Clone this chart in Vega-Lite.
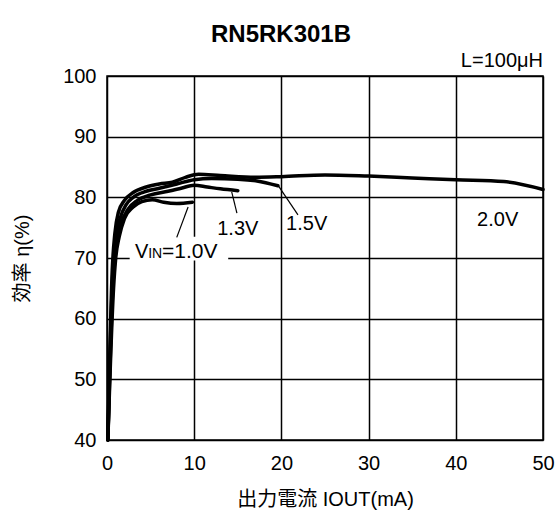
{
  "$schema": "https://vega.github.io/schema/vega-lite/v6.json",
  "width": 436,
  "height": 364,
  "autosize": {"type": "none"},
  "padding": {"left": 107, "top": 76, "right": 16, "bottom": 72},
  "background": "white",
  "title": {"text": "RN5RK301B", "font": "Liberation Sans", "fontSize": 24, "fontWeight": "bold", "color": "black", "anchor": "middle", "dx": -44, "offset": 4},
  "config": {
    "view": {"stroke": "black", "strokeWidth": 1.5},
    "axis": {"labelFont": "Liberation Sans", "labelFontSize": 20, "labelColor": "black", "titleFont": "Liberation Sans, Noto Sans CJK JP", "titleFontSize": 20, "titleFontWeight": "normal", "titleColor": "black", "tickSize": 0, "domain": false, "gridColor": "black", "gridOpacity": 1, "gridWidth": 1.5, "labelPadding": 11, "labelFlush": false}
  },
  "datasets": {
    "curves": [
      {"s": "2.0V", "x": 0.1, "y": 40}, {"s": "2.0V", "x": 0.6, "y": 68}, {"s": "2.0V", "x": 0.9, "y": 74}, {"s": "2.0V", "x": 1.3, "y": 77.5}, {"s": "2.0V", "x": 2, "y": 79.5}, {"s": "2.0V", "x": 3, "y": 80.8}, {"s": "2.0V", "x": 4.5, "y": 81.7}, {"s": "2.0V", "x": 6, "y": 82.2}, {"s": "2.0V", "x": 7.5, "y": 82.5}, {"s": "2.0V", "x": 9, "y": 83.3}, {"s": "2.0V", "x": 10.5, "y": 83.8}, {"s": "2.0V", "x": 13, "y": 83.6}, {"s": "2.0V", "x": 17, "y": 83.3}, {"s": "2.0V", "x": 20, "y": 83.4}, {"s": "2.0V", "x": 25, "y": 83.7}, {"s": "2.0V", "x": 30, "y": 83.5}, {"s": "2.0V", "x": 35, "y": 83.2}, {"s": "2.0V", "x": 40, "y": 82.9}, {"s": "2.0V", "x": 45.5, "y": 82.6}, {"s": "2.0V", "x": 50, "y": 81.3},
      {"s": "1.5V", "x": 0.1, "y": 40}, {"s": "1.5V", "x": 0.65, "y": 67}, {"s": "1.5V", "x": 1.0, "y": 73}, {"s": "1.5V", "x": 1.5, "y": 76.5}, {"s": "1.5V", "x": 2.2, "y": 78.8}, {"s": "1.5V", "x": 3, "y": 80}, {"s": "1.5V", "x": 4.5, "y": 81}, {"s": "1.5V", "x": 6, "y": 81.5}, {"s": "1.5V", "x": 8, "y": 82.2}, {"s": "1.5V", "x": 10, "y": 82.9}, {"s": "1.5V", "x": 12, "y": 83.1}, {"s": "1.5V", "x": 15, "y": 83.0}, {"s": "1.5V", "x": 17.2, "y": 82.7}, {"s": "1.5V", "x": 19.6, "y": 81.9},
      {"s": "1.3V", "x": 0.1, "y": 40}, {"s": "1.3V", "x": 0.7, "y": 66}, {"s": "1.3V", "x": 1.1, "y": 72}, {"s": "1.3V", "x": 1.6, "y": 75.5}, {"s": "1.3V", "x": 2.4, "y": 78}, {"s": "1.3V", "x": 3.5, "y": 79.5}, {"s": "1.3V", "x": 5, "y": 80.4}, {"s": "1.3V", "x": 7, "y": 81}, {"s": "1.3V", "x": 8.5, "y": 81.5}, {"s": "1.3V", "x": 10, "y": 82}, {"s": "1.3V", "x": 11.5, "y": 81.7}, {"s": "1.3V", "x": 13, "y": 81.4}, {"s": "1.3V", "x": 15, "y": 81.1},
      {"s": "1.0V", "x": 0.1, "y": 40}, {"s": "1.0V", "x": 0.75, "y": 65}, {"s": "1.0V", "x": 1.0, "y": 70}, {"s": "1.0V", "x": 1.4, "y": 73.5}, {"s": "1.0V", "x": 2.0, "y": 76.5}, {"s": "1.0V", "x": 3, "y": 78.4}, {"s": "1.0V", "x": 4, "y": 79.3}, {"s": "1.0V", "x": 5.2, "y": 79.6}, {"s": "1.0V", "x": 6.5, "y": 79.2}, {"s": "1.0V", "x": 8, "y": 79}, {"s": "1.0V", "x": 9.8, "y": 79.2}
    ],
    "leaders": [
      {"x": 9.3, "y": 78.4, "x2": 8.0, "y2": 73.4},
      {"x": 14.3, "y": 80.9, "x2": 14.9, "y2": 77.4},
      {"x": 19.6, "y": 82.0, "x2": 21.9, "y2": 77.1}
    ],
    "labels": [
      {"t": "1.3V", "x": 15.0, "y": 74.8},
      {"t": "1.5V", "x": 22.9, "y": 75.6},
      {"t": "2.0V", "x": 44.8, "y": 76.3}
    ],
    "vin": [
      {"t": "V", "x": 3.21, "y": 70.0, "size": 20},
      {"t": "IN", "x": 4.72, "y": 70.0, "size": 14},
      {"t": "=1.0V", "x": 6.3, "y": 70.0, "size": 21}
    ],
    "box": [{"x": 2.6, "x2": 13.9, "y": 69.6, "y2": 73.5}],
    "note": [{"t": "L=100μH", "x": 50, "y": 100}]
  },
  "layer": [
    {
      "data": {"name": "box"},
      "mark": {"type": "rect", "color": "white"},
      "encoding": {
        "x": {"field": "x", "type": "quantitative", "scale": {"domain": [0, 50]}, "axis": {"values": [0, 10, 20, 30, 40, 50], "title": "出力電流 IOUT(mA)", "titlePadding": 16, "labelPadding": 13}},
        "x2": {"field": "x2"},
        "y": {"field": "y", "type": "quantitative", "scale": {"domain": [40, 100]}, "axis": {"values": [40, 50, 60, 70, 80, 90, 100], "title": "効率 η(%)", "titlePadding": 30}},
        "y2": {"field": "y2"}
      }
    },
    {
      "data": {"name": "curves"},
      "mark": {"type": "line", "color": "black", "strokeWidth": 3.5, "interpolate": "monotone", "strokeCap": "round", "strokeJoin": "round"},
      "encoding": {
        "x": {"field": "x", "type": "quantitative"},
        "y": {"field": "y", "type": "quantitative"},
        "detail": {"field": "s"}
      }
    },
    {
      "data": {"name": "leaders"},
      "mark": {"type": "rule", "color": "black", "strokeWidth": 1.2},
      "encoding": {
        "x": {"field": "x", "type": "quantitative"},
        "y": {"field": "y", "type": "quantitative"},
        "x2": {"field": "x2"},
        "y2": {"field": "y2"}
      }
    },
    {
      "data": {"name": "labels"},
      "mark": {"type": "text", "font": "Liberation Sans", "fontSize": 20, "color": "black", "align": "center", "baseline": "middle"},
      "encoding": {
        "x": {"field": "x", "type": "quantitative"},
        "y": {"field": "y", "type": "quantitative"},
        "text": {"field": "t"}
      }
    },
    {
      "data": {"name": "vin"},
      "mark": {"type": "text", "font": "Liberation Sans", "color": "black", "align": "left", "baseline": "alphabetic"},
      "encoding": {
        "x": {"field": "x", "type": "quantitative"},
        "y": {"field": "y", "type": "quantitative"},
        "text": {"field": "t"},
        "size": {"field": "size", "type": "quantitative", "scale": null, "legend": null}
      }
    },
    {
      "data": {"name": "note"},
      "mark": {"type": "text", "font": "Liberation Sans", "fontSize": 20, "color": "black", "align": "right", "baseline": "alphabetic", "dy": -9},
      "encoding": {
        "x": {"field": "x", "type": "quantitative"},
        "y": {"field": "y", "type": "quantitative"},
        "text": {"field": "t"}
      }
    }
  ]
}
